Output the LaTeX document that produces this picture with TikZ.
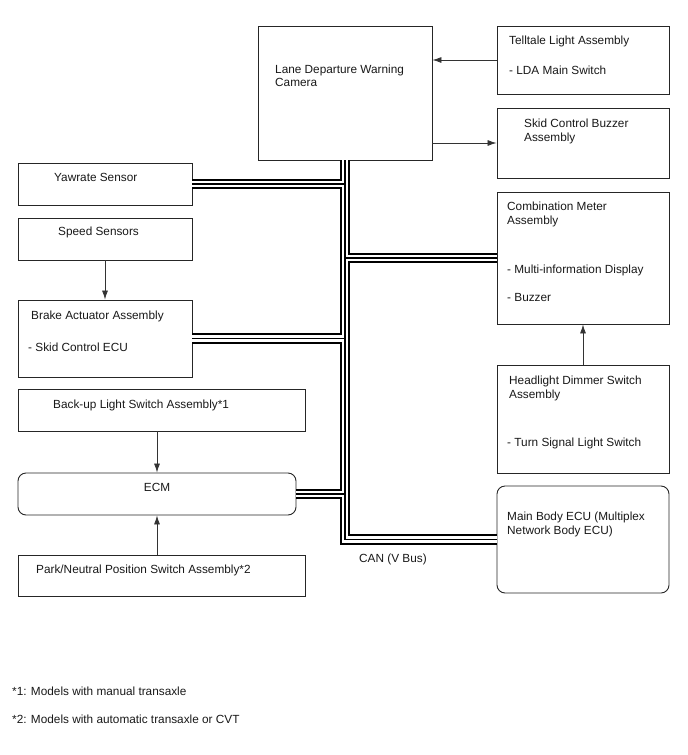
\documentclass[tikz,border=0pt]{standalone}
\usepackage{fontspec}
\setmainfont{Liberation Sans}
\usetikzlibrary{arrows.meta}
\begin{document}
\begin{tikzpicture}[x=1pt,y=-1pt,
  box/.style={draw=black!85, line width=0.9pt, inner sep=0pt, fill=white},
  rbox/.style={box, rounded corners=8pt},
  lbl/.style={anchor=base west, inner sep=0pt, text=black!90, font=\fontsize{11.8}{14}\selectfont},
  arr/.style={draw=black!80, line width=0.8pt, -{Latex[length=9pt,width=6pt]}},
  bus/.style={draw=black, line width=10.5pt, postaction={draw=white, line width=6.5pt}, postaction={draw=black, line width=1.4pt}}]
\useasboundingbox[fill=white] (0,0) rectangle (688,755);

% boxes
\node[box, minimum width=174pt, minimum height=134pt] (cam) at (345,93) {};
\node[box, minimum width=172pt, minimum height=68pt] (tell) at (583,60) {};
\node[box, minimum width=172pt, minimum height=70pt] (buzz) at (583,143) {};
\node[box, minimum width=174pt, minimum height=42pt] (yaw) at (105,184) {};
\node[box, minimum width=174pt, minimum height=42pt] (speed) at (105,239) {};
\node[box, minimum width=174pt, minimum height=77pt] (brake) at (105,338.5) {};
\node[box, minimum width=287pt, minimum height=42pt] (backup) at (161.5,410) {};
\node[rbox, minimum width=278pt, minimum height=42pt] (ecm) at (157,494) {};
\node[box, minimum width=287pt, minimum height=41pt] (park) at (161.5,575.5) {};
\node[box, minimum width=172pt, minimum height=132pt] (comb) at (583,258) {};
\node[box, minimum width=172pt, minimum height=108pt] (head) at (583,419) {};
\node[rbox, minimum width=172pt, minimum height=107pt] (mb) at (583,539.5) {};

% CAN bus
\path[bus] (cam.south) -- (cam.south |- mb.west) -- (mb.west)
  (yaw.east) -- (yaw.east -| cam.south)
  (brake.east) -- (brake.east -| cam.south)
  (ecm.east) -- (ecm.east -| cam.south)
  (comb.west) -- (comb.west -| cam.south);

% arrows
\draw[arr] (tell.west) -- (tell.west -| cam.east);
\draw[arr] (buzz.west -| cam.east) -- (buzz.west);
\draw[arr] (speed.south) -- (brake.north);
\draw[arr] (ecm.north |- backup.south) -- (ecm.north);
\draw[arr] (ecm.south |- park.north) -- (ecm.south);
\draw[arr] (head.north) -- (comb.south);

% labels
\node[lbl] (tcam1) at (275,73) {Lane Departure Warning};
\node[lbl] (tcam2) at (275,86) {Camera};
\node[lbl] (ttell1) at (509,44) {Telltale Light Assembly};
\node[lbl] (ttell2) at (509,74) {- LDA Main Switch};
\node[lbl] (tbuzz1) at (524,127) {Skid Control Buzzer};
\node[lbl] (tbuzz2) at (524,141) {Assembly};
\node[lbl] (tyaw) at (54,181) {Yawrate Sensor};
\node[lbl] (tspeed) at (58,235) {Speed Sensors};
\node[lbl] (tbrake1) at (31,319) {Brake Actuator Assembly};
\node[lbl] (tbrake2) at (28,351) {- Skid Control ECU};
\node[lbl] (tbackup) at (53,408) {Back-up Light Switch Assembly*1};
\node[lbl, anchor=base] (tecm) at (157,491) {ECM};
\node[lbl] (tpark) at (36,573) {Park/Neutral Position Switch Assembly*2};
\node[lbl] (tcomb1) at (507,210) {Combination Meter};
\node[lbl] (tcomb2) at (507,224) {Assembly};
\node[lbl] (tcomb3) at (507,273) {- Multi-information Display};
\node[lbl] (tcomb4) at (507,301) {- Buzzer};
\node[lbl] (thead1) at (509,384) {Headlight Dimmer Switch};
\node[lbl] (thead2) at (509,398) {Assembly};
\node[lbl] (thead3) at (507,446) {- Turn Signal Light Switch};
\node[lbl] (tmb1) at (507,520) {Main Body ECU (Multiplex};
\node[lbl] (tmb2) at (507,534) {Network Body ECU)};
\node[lbl] (tcan) at (359,562) {CAN (V Bus)};
\node[lbl] (tfn1) at (12,695) {*1: Models with manual transaxle};
\node[lbl] (tfn2) at (12,723) {*2: Models with automatic transaxle or CVT};
\end{tikzpicture}
\end{document}
